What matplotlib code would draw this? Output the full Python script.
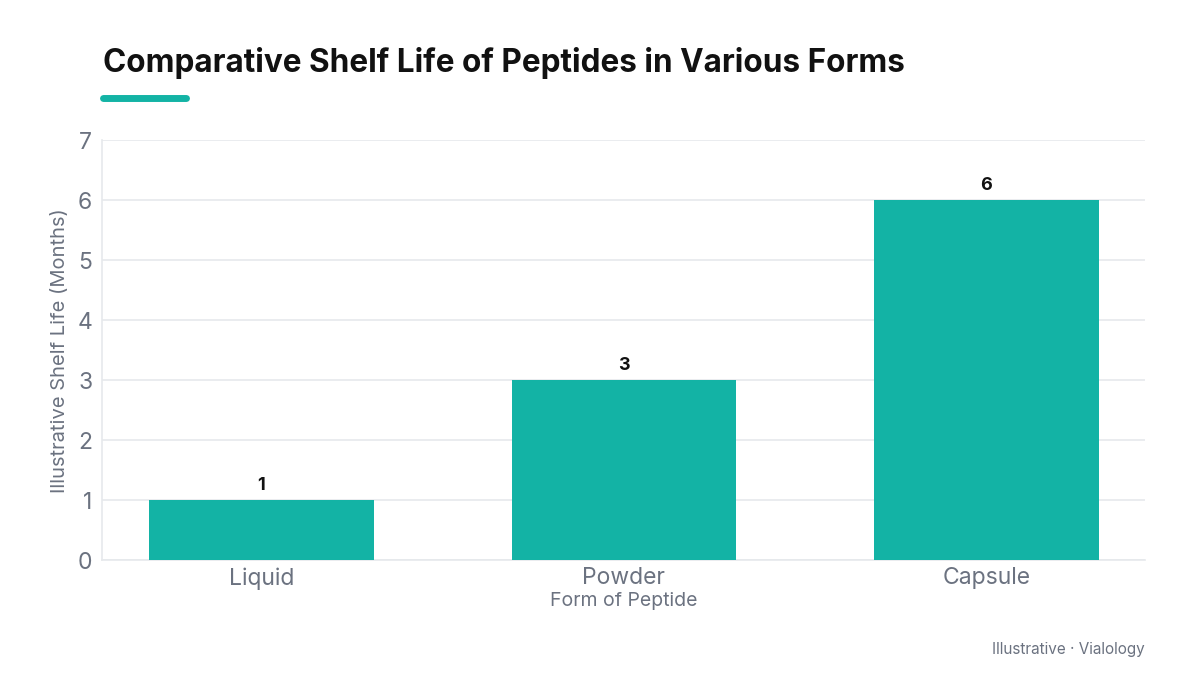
import matplotlib.pyplot as plt
from matplotlib.lines import Line2D

categories = ['Liquid', 'Powder', 'Capsule']
shelf_life = [1, 3, 6]

teal = '#13b3a5'
grey = '#6b7280'
grid_c = '#e6e9ec'

plt.rcParams['font.family'] = ['Inter', 'DejaVu Sans']

fig = plt.figure(figsize=(12, 6.75), dpi=100)
fig.set_facecolor('white')
ax = fig.add_axes([0.085, 0.170, 0.869, 0.622])

x = range(len(categories))
bars = ax.bar(x, shelf_life, width=0.62, color=teal, zorder=3)
for b, v in zip(bars, shelf_life):
    ax.text(b.get_x() + b.get_width() / 2, v + 0.11, str(v),
            ha='center', va='bottom', fontsize=13, fontweight='bold',
            color='#111111')

ax.set_xlim(-0.44, 2.437)
ax.set_ylim(0, 7)
ax.set_yticks(range(0, 8))
ax.set_xticks(list(x))
ax.set_xticklabels(categories)
ax.tick_params(axis='both', length=0, labelsize=16.5, labelcolor=grey)
ax.tick_params(axis='y', pad=7)
ax.tick_params(axis='x', pad=5)
ax.grid(axis='y', color=grid_c, linewidth=1.2, zorder=0)
for s in ['top', 'right']:
    ax.spines[s].set_visible(False)
for s in ['left', 'bottom']:
    ax.spines[s].set_color(grid_c)
    ax.spines[s].set_linewidth(1.2)

ax.set_xlabel('Form of Peptide', fontsize=14, color=grey, labelpad=2)
ax.set_ylabel('Illustrative Shelf Life (Months)', fontsize=14.5, color=grey,
              labelpad=6)

fig.text(0.086, 0.907, 'Comparative Shelf Life of Peptides in Various Forms',
         fontsize=22.7, fontweight='bold', color='#111111', va='center')
fig.add_artist(Line2D([0.086, 0.155], [0.855, 0.855], color=teal,
                      linewidth=5, solid_capstyle='round',
                      transform=fig.transFigure))
fig.text(0.954, 0.038, 'Illustrative \u00b7 Vialology', fontsize=11,
         color=grey, ha='right', va='center')

fig.savefig('out.png', dpi=100, facecolor=fig.get_facecolor())
